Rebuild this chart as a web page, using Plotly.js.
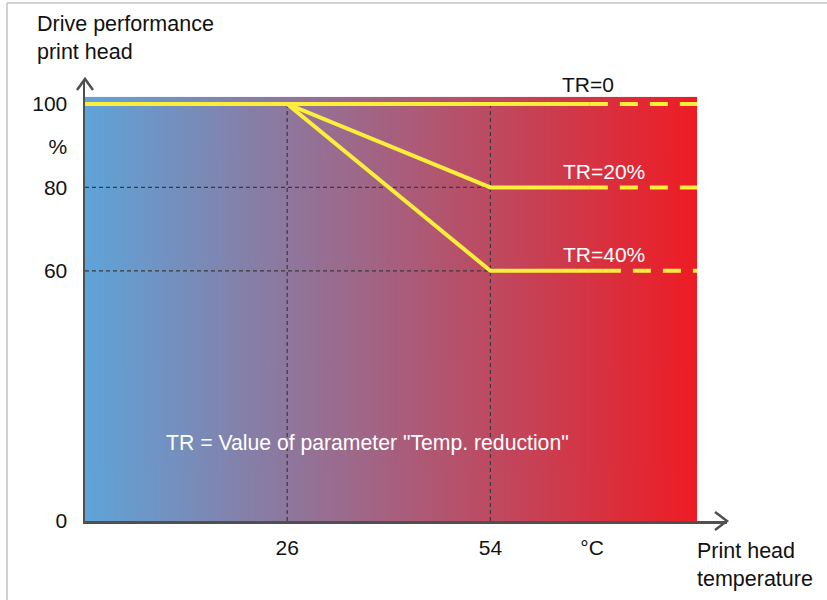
<!DOCTYPE html>
<html>
<head>
<meta charset="utf-8">
<script src="https://cdn.plot.ly/plotly-3.0.1.min.js"></script>
<style>html,body{margin:0;padding:0;background:#fff;}#chart{width:827px;height:600px;}</style>
</head>
<body>
<div id="chart"></div>
<script>
// ---- data ----
const rampX = [-1.86, 26, 54];          // temperature breakpoints (°C)
const tr0 = [100, 100, 100];            // drive performance, TR=0
const tr20 = [100, 100, 80];            // TR=20%
const tr40 = [100, 100, 60];            // TR=40%
const solidEnd = [67.7, 67.7, 69.5];    // where solid line turns dashed
const dashEnd = 82.47;                  // right edge of chart area
const seriesLabels = ['TR=0', 'TR=20%', 'TR=40%'];
const labelX = [67.4, 69.7, 69.7];
const labelY = [104.6, 83.9, 64.0];
const guideTemps = [26, 54];
const guideLevels = [80, 60];
const yTickVals = [0, 60, 80, 89.7, 100];
const yTickText = ['0', '60', '80', '%', '100'];
const xTickVals = [26, 54, 68];
const xTickText = ['26', '54', '°C'];
const bgTop = 101.7;

// ---- layout geometry ----
const W = 827, H = 600, L = 85, R = 100, T = 79, B = 79;
const pw = W - L - R, ph = H - T - B;
const px = x => (x - L) / pw;
const py = y => (H - B - y) / ph;

// gradient background image
const cv = document.createElement('canvas');
cv.width = 512; cv.height = 4;
const ctx = cv.getContext('2d');
const g = ctx.createLinearGradient(0, 0, 512, 0);
g.addColorStop(0, '#5fa4d9');
g.addColorStop(1, '#ee1c24');
ctx.fillStyle = g; ctx.fillRect(0, 0, 512, 4);
const bgSrc = cv.toDataURL();

const yellow = '#fdee3c';
const series = [tr0, tr20, tr40];
const traces = [];

// guide lines
guideTemps.forEach(t => {
  traces.push({x: [t, t], y: [0, 100], mode: 'lines', hoverinfo: 'skip', showlegend: false,
    line: {color: '#3a3a3a', width: 1.2, dash: '4px,3px'}});
});
guideLevels.forEach((lv) => {
  traces.push({x: [rampX[0], guideTemps[1]], y: [lv, lv], mode: 'lines', hoverinfo: 'skip', showlegend: false,
    line: {color: '#3a3a3a', width: 1.2, dash: '4px,3px'}});
});

series.forEach((s, i) => {
  traces.push({x: rampX.concat([solidEnd[i]]), y: s.concat([s[s.length - 1]]), mode: 'lines',
    hoverinfo: 'skip', showlegend: false, line: {color: yellow, width: 4}});
  traces.push({x: [solidEnd[i], dashEnd], y: [s[s.length - 1], s[s.length - 1]], mode: 'lines',
    hoverinfo: 'skip', showlegend: false, line: {color: yellow, width: 4, dash: '18px,12px'}});
});

const font = 'Liberation Sans, Arial, sans-serif';
const annotations = seriesLabels.map((t, i) => ({
  x: labelX[i], y: labelY[i], xref: 'x', yref: 'y', text: t, showarrow: false,
  font: {family: font, size: 21, color: i === 0 ? '#111' : '#fff'}
}));
annotations.push({x: 37.0, y: 18.7, xref: 'x', yref: 'y', showarrow: false,
  text: 'TR = Value of parameter "Temp. reduction"', font: {family: font, size: 21.2, color: '#fff'}});
annotations.push({x: px(35), y: py(38), xref: 'paper', yref: 'paper', xanchor: 'left', yanchor: 'middle',
  align: 'left', showarrow: false, text: 'Drive performance<br>print head',
  font: {family: font, size: 21.5, color: '#111'}});
annotations.push({x: px(695), y: py(565), xref: 'paper', yref: 'paper', xanchor: 'left', yanchor: 'middle',
  align: 'left', showarrow: false, text: 'Print head<br>temperature',
  font: {family: font, size: 21.5, color: '#111'}});

const shapes = [
  // outer frame
  {type: 'line', xref: 'paper', yref: 'paper', x0: px(7), y0: py(3), x1: px(830), y1: py(3),
    line: {color: '#d2d2d2', width: 2}},
  {type: 'line', xref: 'paper', yref: 'paper', x0: px(7), y0: py(3), x1: px(7), y1: py(605),
    line: {color: '#d2d2d2', width: 2}},
  // arrow heads
  {type: 'path', xref: 'paper', yref: 'paper',
    path: `M ${px(715)} ${py(512)} L ${px(727)} ${py(521)} L ${px(715)} ${py(530)}`,
    line: {color: '#505050', width: 2.5}},
  {type: 'path', xref: 'paper', yref: 'paper',
    path: `M ${px(77)} ${py(90)} L ${px(85)} ${py(79)} L ${px(93)} ${py(90)}`,
    line: {color: '#505050', width: 2.5}}
];

const layout = {
  width: W, height: H,
  margin: {l: L, r: R, t: T, b: B, pad: 0},
  paper_bgcolor: '#fff', plot_bgcolor: 'rgba(0,0,0,0)',
  showlegend: false,
  xaxis: {range: [rampX[0], 86.6], showgrid: false, zeroline: false, showline: true,
    linecolor: '#505050', linewidth: 2.5, tickvals: xTickVals, ticktext: xTickText, ticks: '',
    ticklabelstandoff: 6, tickfont: {family: font, size: 21, color: '#111'}, fixedrange: true},
  yaxis: {range: [0, 106], showgrid: false, zeroline: false, showline: true,
    linecolor: '#505050', linewidth: 2.5, tickvals: yTickVals, ticktext: yTickText, ticks: '',
    ticklabelstandoff: 11, tickfont: {family: font, size: 21, color: '#111'}, fixedrange: true},
  images: [{source: bgSrc, xref: 'x', yref: 'y', x: rampX[0], y: bgTop,
    sizex: dashEnd - rampX[0], sizey: bgTop, sizing: 'stretch', xanchor: 'left', yanchor: 'top', layer: 'below'}],
  annotations: annotations,
  shapes: shapes
};

Plotly.newPlot('chart', traces, layout, {displayModeBar: false, staticPlot: true});
</script>
</body>
</html>
